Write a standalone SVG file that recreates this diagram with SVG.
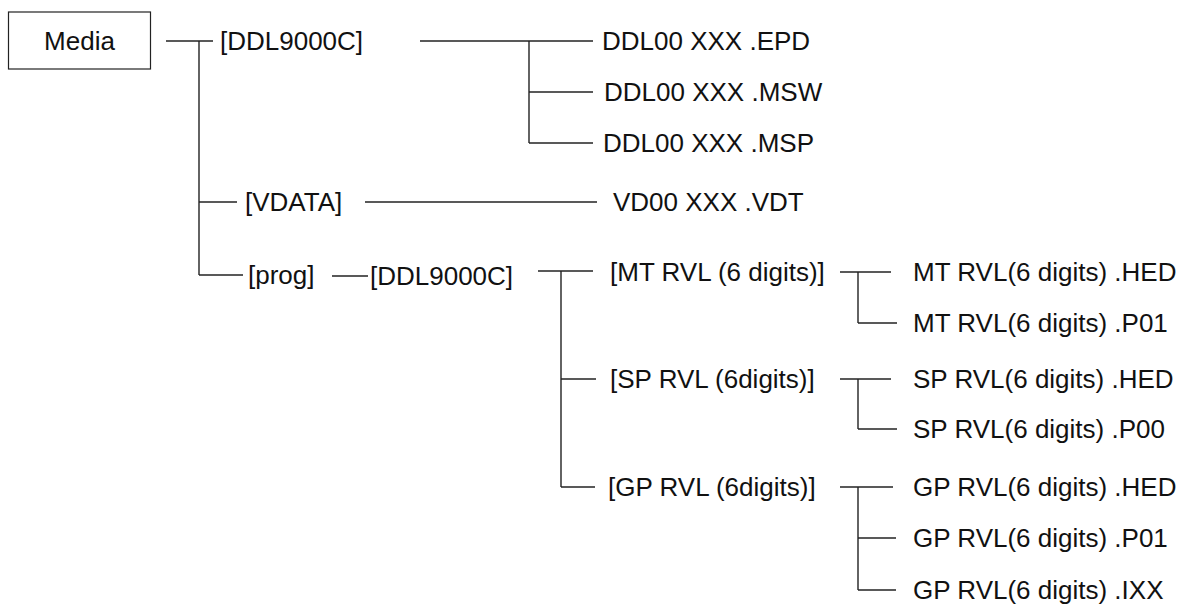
<svg xmlns="http://www.w3.org/2000/svg" width="1185" height="605" viewBox="0 0 1185 605">
<style>
text { font-family: "Liberation Sans", Arial, sans-serif; font-size: 26px; fill: #111; }
.c line { stroke: #222; stroke-width: 1.4; fill: none; }
.box { fill: #fff; stroke: #222; stroke-width: 1.2; }
</style>
<rect width="1185" height="605" fill="#fff"/>
<g class="c" id="connectors">
<line x1="166" y1="41" x2="213" y2="41"/>
<line x1="199" y1="41" x2="199" y2="275"/>
<line x1="199" y1="202" x2="237" y2="202"/>
<line x1="199" y1="275" x2="243" y2="275"/>
<line x1="420" y1="41" x2="593" y2="41"/>
<line x1="529" y1="41" x2="529" y2="143"/>
<line x1="529" y1="92" x2="593" y2="92"/>
<line x1="529" y1="143" x2="593" y2="143"/>
<line x1="365" y1="202" x2="597" y2="202"/>
<line x1="332" y1="276" x2="368" y2="276"/>
<line x1="538" y1="271" x2="593" y2="271"/>
<line x1="561" y1="271" x2="561" y2="487"/>
<line x1="561" y1="379" x2="596" y2="379"/>
<line x1="561" y1="487" x2="595" y2="487"/>
<line x1="840" y1="272" x2="891" y2="272"/>
<line x1="858" y1="272" x2="858" y2="323"/>
<line x1="858" y1="323" x2="897" y2="323"/>
<line x1="840" y1="379" x2="891" y2="379"/>
<line x1="858" y1="379" x2="858" y2="429"/>
<line x1="858" y1="429" x2="897" y2="429"/>
<line x1="840" y1="487" x2="893" y2="487"/>
<line x1="858" y1="487" x2="858" y2="590"/>
<line x1="858" y1="538" x2="896" y2="538"/>
<line x1="858" y1="590" x2="896" y2="590"/>
</g>
<g id="media"><rect class="box" x="8.5" y="12" width="142" height="57"/><text x="79.5" y="50" text-anchor="middle">Media</text></g>
<g id="ddl9000c"><text x="220" y="50">[DDL9000C]</text></g>
<g id="epd"><text x="602" y="50">DDL00 XXX .EPD</text></g>
<g id="msw"><text x="604" y="101">DDL00 XXX .MSW</text></g>
<g id="msp"><text x="603" y="152">DDL00 XXX .MSP</text></g>
<g id="vdata"><text x="245" y="211">[VDATA]</text></g>
<g id="vdt"><text x="613" y="211">VD00 XXX .VDT</text></g>
<g id="prog"><text x="248" y="284">[prog]</text></g>
<g id="prog-ddl"><text x="370" y="285">[DDL9000C]</text></g>
<g id="mt"><text x="610" y="281">[MT RVL (6 digits)]</text></g>
<g id="sp"><text x="610" y="388">[SP RVL (6digits)]</text></g>
<g id="gp"><text x="608" y="496">[GP RVL (6digits)]</text></g>
<g id="mt-hed"><text x="913" y="281">MT RVL(6 digits) .HED</text></g>
<g id="mt-p01"><text x="913" y="332">MT RVL(6 digits) .P01</text></g>
<g id="sp-hed"><text x="913" y="388">SP RVL(6 digits) .HED</text></g>
<g id="sp-p00"><text x="913" y="438">SP RVL(6 digits) .P00</text></g>
<g id="gp-hed"><text x="913" y="496">GP RVL(6 digits) .HED</text></g>
<g id="gp-p01"><text x="913" y="547">GP RVL(6 digits) .P01</text></g>
<g id="gp-ixx"><text x="913" y="599">GP RVL(6 digits) .IXX</text></g>
</svg>
